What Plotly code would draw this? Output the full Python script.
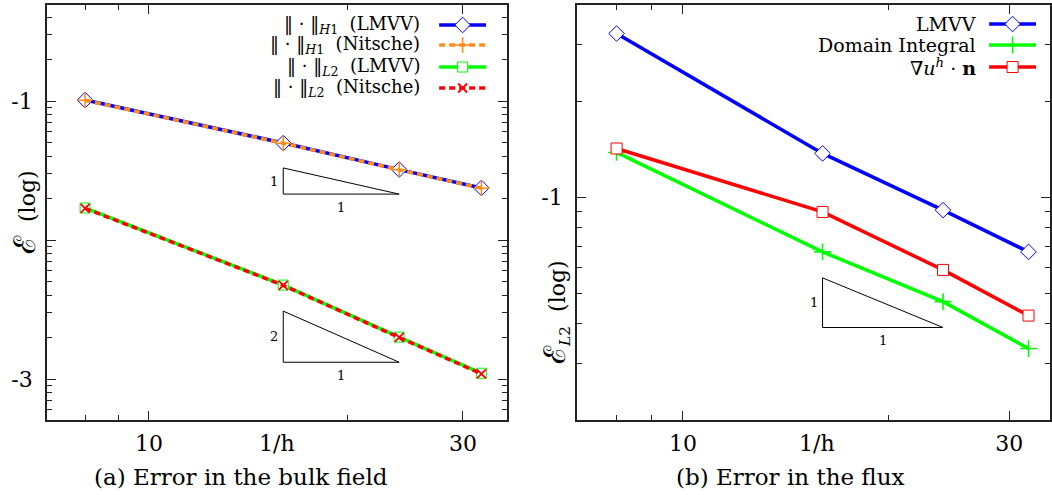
import numpy as np
import plotly.graph_objects as go

# ---------------- data ----------------
inv_h = [8, 16, 24, 32]

# (a) error in the bulk field
h1_lmvv = [0.1016, 0.0499, 0.0321, 0.0237]
h1_nitsche = [0.1012, 0.0497, 0.0320, 0.0236]
l2_lmvv = [0.0170, 0.00474, 0.00200, 0.00110]
l2_nitsche = [0.0169, 0.00472, 0.00199, 0.00109]

# (b) error in the flux
flux_lmvv = [0.3255, 0.137, 0.091, 0.0673]
flux_domain_integral = [0.138, 0.0673, 0.047, 0.0335]
flux_grad = [0.142, 0.0898, 0.0591, 0.0425]

# slope triangles (x range and y top/bottom)
tri_x = [16, 24]
tri_a1_y = [0.0330, 0.0214]
tri_a2_y = [0.00308, 0.00132]
tri_b_y = [0.0558, 0.0390]

x_ticks = [10, 30]
x_ticktext = ["10", "30"]
x_minor = [8, 9, 20]

ya_ticks = [1e-3, 1e-2, 1e-1]
ya_ticktext = ["-3", "", "-1"]
yb_ticks = [0.1]
yb_ticktext = ["-1"]

W, H = 1052, 495
FONT = "DejaVu Serif"


def px(x):
    return x / W


def py(y):
    return 1 - y / H


BLUE = "#0000ff"
ORANGE = "#ff8c1a"
GREEN = "#00ff00"
RED = "#ff0000"

fig = go.Figure()

NORM = "‖ · ‖"
left_series = [
    (NORM + "<sub><i>H</i>1</sub>  (LMVV)", h1_lmvv, BLUE, "solid", "diamond", 12, "white", 1),
    (NORM + "<sub><i>H</i>1</sub>  (Nitsche)", h1_nitsche, ORANGE, "6px,4px", "cross-thin", 11, ORANGE, 1.6),
    (NORM + "<sub><i>L</i>2</sub>  (LMVV)", l2_lmvv, GREEN, "solid", "square", 10, "white", 1),
    (NORM + "<sub><i>L</i>2</sub>  (Nitsche)", l2_nitsche, RED, "6px,4px", "x-thin", 9, RED, 1.8),
]
right_series = [
    ("LMVV", flux_lmvv, BLUE, "solid", "diamond", 12, "white", 1),
    ("Domain Integral", flux_domain_integral, GREEN, "solid", "cross-thin", 12, GREEN, 1.6),
    ("∇<i>u</i><sup><i>h</i></sup> · <b>n</b>", flux_grad, RED, "solid", "square", 11, "white", 1),
]


def add_series(series, xa, ya):
    for name, yv, col, dash, sym, size, fill, mlw in series:
        fig.add_trace(go.Scatter(
            x=inv_h, y=yv, mode="lines+markers", xaxis=xa, yaxis=ya,
            line=dict(color=col, width=3.5, dash=dash),
            marker=dict(symbol=sym, size=size, color=fill,
                        line=dict(color=col, width=mlw)),
            showlegend=False, hoverinfo="skip"))


add_series(left_series, "x", "y")
add_series(right_series, "x2", "y2")


def add_triangle(ys, xa, ya):
    fig.add_trace(go.Scatter(
        x=[tri_x[0], tri_x[0], tri_x[1], tri_x[0]],
        y=[ys[0], ys[1], ys[1], ys[0]],
        mode="lines", xaxis=xa, yaxis=ya,
        line=dict(color="black", width=1), showlegend=False, hoverinfo="skip"))


add_triangle(tri_a1_y, "x", "y")
add_triangle(tri_a2_y, "x", "y")
add_triangle(tri_b_y, "x2", "y2")


# legend samples drawn on a pixel-coordinate overlay axis
def add_legend(series, x0, x1, rows):
    for (name, yv, col, dash, sym, size, fill, mlw), yr in zip(series, rows):
        fig.add_trace(go.Scatter(
            x=[x0, x1], y=[yr, yr], mode="lines", xaxis="x3", yaxis="y3",
            line=dict(color=col, width=3.5, dash=dash),
            showlegend=False, hoverinfo="skip"))
        fig.add_trace(go.Scatter(
            x=[(x0 + x1) / 2], y=[yr], mode="markers", xaxis="x3", yaxis="y3",
            marker=dict(symbol=sym, size=size, color=fill,
                        line=dict(color=col, width=mlw)),
            showlegend=False, hoverinfo="skip"))


left_rows = [25, 45, 67, 88]
right_rows = [24, 45, 67]
add_legend(left_series, 440, 487, left_rows)
add_legend(right_series, 991, 1038, right_rows)

annotations = []


def note(x, y, text, font, **kw):
    d = dict(x=px(x), y=py(y), xref="paper", yref="paper", text=text, showarrow=False,
             xanchor="center", yanchor="middle", font=font)
    d.update(kw)
    annotations.append(d)


leg_font = dict(family=FONT, size=18, color="black")
for (name, *_), yr in zip(left_series, left_rows):
    note(423, yr, name, leg_font, xanchor="right")
for (name, *_), yr in zip(right_series, right_rows):
    note(980, yr, name, dict(leg_font, size=19), xanchor="right")


# triangle labels
def tri_labels(ys, xr, yr, vlabel):
    xm = np.sqrt(tri_x[0] * tri_x[1])
    yvm = np.sqrt(ys[0] * ys[1])
    annotations.append(dict(x=np.log10(tri_x[0]), y=np.log10(yvm), xref=xr, yref=yr,
                            text=vlabel, showarrow=False, xanchor="right", yanchor="middle",
                            xshift=-3, font=dict(family=FONT, size=13, color="black")))
    annotations.append(dict(x=np.log10(xm), y=np.log10(ys[1]), xref=xr, yref=yr,
                            text="1", showarrow=False, xanchor="center", yanchor="top",
                            yshift=-4, font=dict(family=FONT, size=13, color="black")))


tri_labels(tri_a1_y, "x", "y", "1")
tri_labels(tri_a2_y, "x", "y", "2")
tri_labels(tri_b_y, "x2", "y2", "1")

big = dict(family=FONT, size=22, color="black")
SCRIPT_E = '<span style="font-size:30px">ℰ</span>'
note(278, 443, "1/h", big)
note(819, 443, "1/h", big)
note(241, 477, "(a) Error in the bulk field", dict(big, size=23))
note(792, 477, "(b) Error in the flux", dict(big, size=23))
note(24, 212, SCRIPT_E + "  (log)", big, textangle=-90)
note(556, 312, SCRIPT_E + "<sub><i>L</i>2</sub>  (log)", big, textangle=-90)

axis_common = dict(type="log", showgrid=False, zeroline=False, showline=True,
                   linecolor="#222", linewidth=1.6, mirror="allticks", ticks="inside",
                   ticklen=9, tickwidth=1.2, tickcolor="#222",
                   tickfont=dict(family=FONT, size=22, color="black"))
minor_common = dict(ticks="inside", ticklen=5, tickwidth=1, tickcolor="#222")


def minors(lo_exp, hi_exp):
    return [m * 10.0 ** e for e in range(lo_exp, hi_exp + 1) for m in range(2, 10)]


xd_a = [47 / W, 508 / W]
xd_b = [578 / W, 1.0]
yd = [75 / H, 490 / H]

fig.update_layout(
    width=W, height=H, margin=dict(l=0, r=0, t=0, b=0),
    paper_bgcolor="white", plot_bgcolor="rgba(0,0,0,0)", showlegend=False,
    xaxis=dict(axis_common, domain=xd_a, anchor="y", range=[np.log10(7), np.log10(35)],
               tickvals=x_ticks, ticktext=x_ticktext, ticklabelstandoff=3,
               minor=dict(minor_common, tickvals=x_minor)),
    yaxis=dict(axis_common, domain=yd, anchor="x", range=[-3.295, -0.309],
               tickvals=ya_ticks, ticktext=ya_ticktext, ticklabelstandoff=8,
               minor=dict(minor_common, tickvals=minors(-4, -1))),
    xaxis2=dict(axis_common, domain=xd_b, anchor="y2", range=[np.log10(7), np.log10(34.4)],
                tickvals=x_ticks, ticktext=x_ticktext, ticklabelstandoff=3,
                minor=dict(minor_common, tickvals=x_minor)),
    yaxis2=dict(axis_common, domain=yd, anchor="x2", range=[np.log10(0.02), np.log10(0.4)],
                tickvals=yb_ticks, ticktext=yb_ticktext, ticklabelstandoff=8,
                minor=dict(minor_common, tickvals=minors(-2, -1))),
    xaxis3=dict(domain=[0, 1], anchor="y3", range=[0, W], visible=False, fixedrange=True),
    yaxis3=dict(domain=[0, 1], anchor="x3", range=[H, 0], visible=False, fixedrange=True),
    annotations=annotations,
)

fig.write_html("out.html")
